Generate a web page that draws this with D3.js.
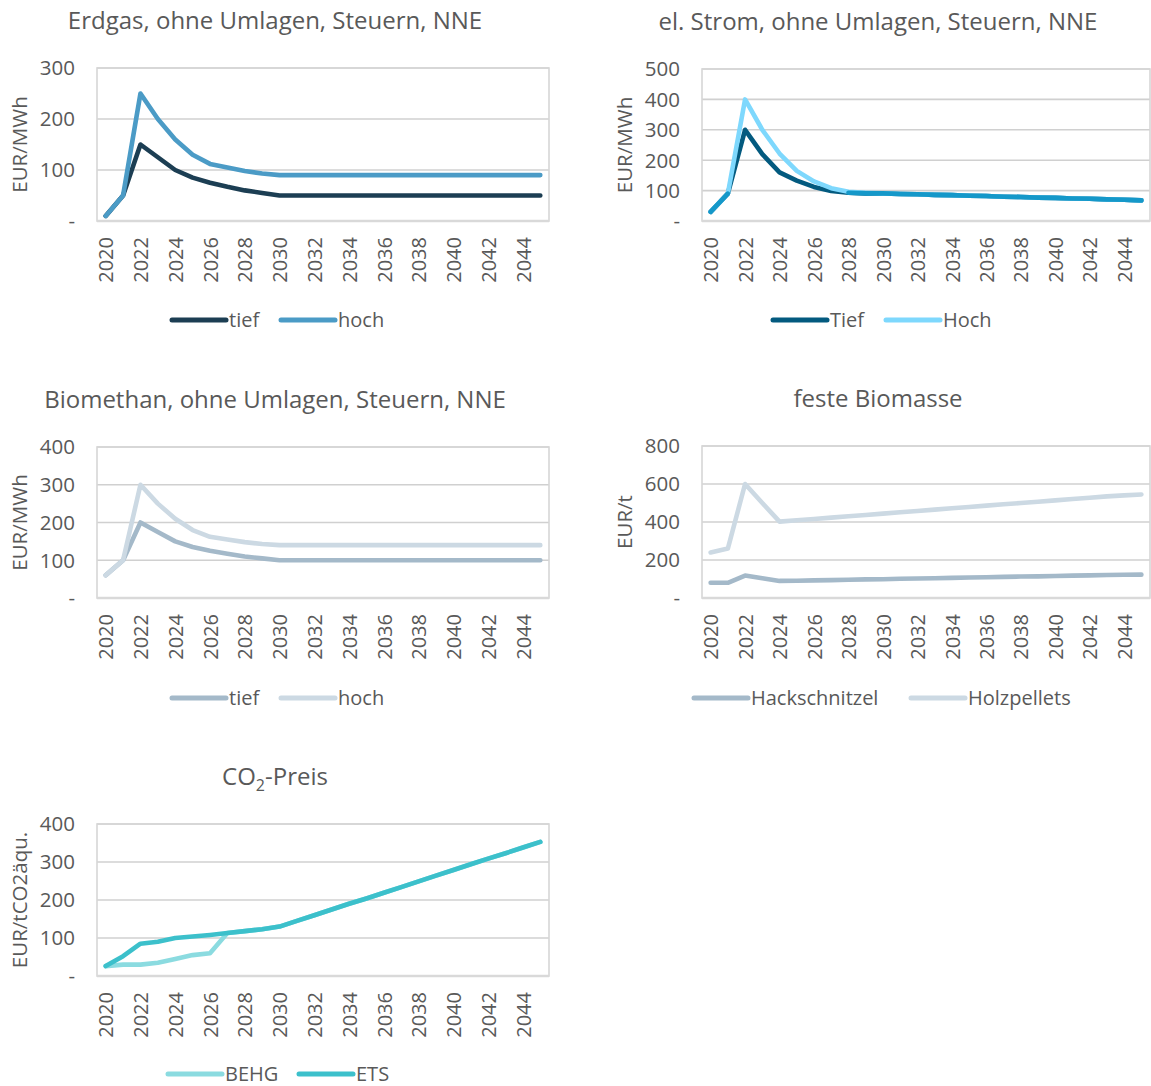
<!DOCTYPE html>
<html>
<head>
<meta charset="utf-8">
<script src="https://cdn.jsdelivr.net/npm/d3@7"></script>
<style>
    body { margin: 0; background: #fff; }
    svg text { font-family: "Open Sans", "Noto Sans", sans-serif; fill: #595959; }
</style>
</head>
<body>
<svg id="chart" width="1151" height="1086"></svg>
<script>
const years = [2020, 2021, 2022, 2023, 2024, 2025, 2026, 2027, 2028, 2029, 2030, 2031, 2032,
    2033, 2034, 2035, 2036, 2037, 2038, 2039, 2040, 2041, 2042, 2043, 2044, 2045];
const yearLabels = [2020, 2022, 2024, 2026, 2028, 2030, 2032, 2034, 2036, 2038, 2040, 2042, 2044];

// Erdgas
const gasTief = [10, 50, 150, 125, 100, 85, 75, 67, 60, 55, 50, 50, 50, 50, 50, 50, 50, 50, 50, 50, 50, 50, 50, 50, 50, 50];
const gasHoch = [10, 50, 250, 200, 160, 130, 112, 105, 98, 93, 90, 90, 90, 90, 90, 90, 90, 90, 90, 90, 90, 90, 90, 90, 90, 90];
// el. Strom
const stromTief = [30, 90, 300, 220, 160, 133, 112, 99, 93, 91, 91, 89, 88, 86, 85, 83, 82, 80, 79, 77, 76, 74, 73, 71, 70, 68];
const stromHoch = [30, 90, 400, 300, 222, 165, 130, 108, 96, 93, 91, 89, 88, 86, 85, 83, 82, 80, 79, 77, 76, 74, 73, 71, 70, 68];
// Biomethan
const bioTief = [60, 100, 200, 175, 150, 135, 125, 117, 110, 105, 100, 100, 100, 100, 100, 100, 100, 100, 100, 100, 100, 100, 100, 100, 100, 100];
const bioHoch = [60, 100, 300, 250, 210, 180, 162, 155, 148, 143, 140, 140, 140, 140, 140, 140, 140, 140, 140, 140, 140, 140, 140, 140, 140, 140];
// feste Biomasse
const hackschnitzel = [80, 80, 118, 104, 90, 91, 93, 94, 96, 98, 99, 101, 103, 104, 106, 108, 109, 111, 113, 114, 116, 118, 119, 121, 122, 123];
const holzpellets = [240, 260, 600, 500, 402, 409, 416, 423, 430, 437, 444, 451, 458, 465, 472, 479, 486, 493, 500, 507, 514, 521, 528, 535, 540, 545];
// CO2-Preis
const behg = [26, 30, 30, 35, 45, 55, 60, 113, 118, 123, 130, 145, 160, 175, 190, 204, 219, 234, 249, 264, 279, 294, 309, 323, 338, 353];
const ets = [26, 52, 85, 90, 100, 104, 108, 113, 118, 123, 130, 145, 160, 175, 190, 204, 219, 234, 249, 264, 279, 294, 309, 323, 338, 353];

const svg = d3.select("#chart");

const panels = [
    {
        title: "Erdgas, ohne Umlagen, Steuern, NNE", yTitle: "EUR/MWh",
        box: [97, 549, 68, 221], yMax: 300, yStep: 100,
        series: [
            {name: "tief", values: gasTief, color: "#1c3e53", lx: 172},
            {name: "hoch", values: gasHoch, color: "#4b9bc6", lx: 281}
        ], legendY: 320
    },
    {
        title: "el. Strom, ohne Umlagen, Steuern, NNE", yTitle: "EUR/MWh",
        box: [702, 1150, 69, 221], yMax: 500, yStep: 100,
        series: [
            {name: "Tief", values: stromTief, color: "#035a7f", lx: 773},
            {name: "Hoch", values: stromHoch, color: "#7ed8fd", lx: 886}
        ], legendY: 320, overlap: "#1598c9"
    },
    {
        title: "Biomethan, ohne Umlagen, Steuern, NNE", yTitle: "EUR/MWh",
        box: [97, 549, 447, 598], yMax: 400, yStep: 100,
        series: [
            {name: "tief", values: bioTief, color: "#a4b9c9", lx: 172},
            {name: "hoch", values: bioHoch, color: "#ccd9e3", lx: 281}
        ], legendY: 698
    },
    {
        title: "feste Biomasse", yTitle: "EUR/t",
        box: [702, 1150, 446, 598], yMax: 800, yStep: 200,
        series: [
            {name: "Hackschnitzel", values: hackschnitzel, color: "#a4b9c9", lx: 694},
            {name: "Holzpellets", values: holzpellets, color: "#ccd9e3", lx: 911}
        ], legendY: 698
    },
    {
        title: "CO2-Preis", yTitle: "EUR/tCO2äqu.",
        box: [97, 549, 824, 976], yMax: 400, yStep: 100,
        series: [
            {name: "BEHG", values: behg, color: "#8bdbe0", lx: 168},
            {name: "ETS", values: ets, color: "#3cc0cb", lx: 299}
        ], legendY: 1074
    }
];

function drawPanel(p) {
    const [x0, x1, y0, y1] = p.box;
    const g = svg.append("g");

    const x = d3.scalePoint().domain(years).range([x0, x1]).padding(0.5);
    const y = d3.scaleLinear().domain([0, p.yMax]).range([y1, y0]);
    const ticks = d3.range(0, p.yMax + 1, p.yStep);

    // gridlines + frame
    g.append("g")
        .selectAll("line")
        .data(ticks.filter(t => t > 0))
        .enter().append("line")
        .attr("x1", x0).attr("x2", x1)
        .attr("y1", d => y(d)).attr("y2", d => y(d))
        .attr("stroke", "#d0d0d0").attr("stroke-width", 1.6);
    g.append("rect")
        .attr("x", x0).attr("y", y0)
        .attr("width", x1 - x0).attr("height", y1 - y0)
        .attr("fill", "none").attr("stroke", "#d6d6d6").attr("stroke-width", 1.6);
    g.append("line")
        .attr("x1", x0).attr("x2", x1).attr("y1", y1).attr("y2", y1)
        .attr("stroke", "#d9d9d9").attr("stroke-width", 2.5);

    // y axis
    const yAxis = g.append("g")
        .attr("transform", `translate(${x0 - 22},0)`)
        .call(d3.axisLeft(y).tickValues(ticks).tickSize(0).tickPadding(0)
            .tickFormat(d => d === 0 ? "-" : d));
    yAxis.select(".domain").remove();
    yAxis.selectAll("text").style("font-size", "20.5px").attr("dy", "0.34em");

    // x axis
    const xAxis = g.append("g")
        .attr("transform", `translate(0,${y1})`)
        .call(d3.axisBottom(x).tickValues(yearLabels).tickSize(0).tickPadding(0));
    xAxis.select(".domain").remove();
    xAxis.selectAll("text")
        .style("font-size", "20px")
        .attr("text-anchor", "end")
        .attr("transform", "translate(0,16) rotate(-90)")
        .attr("x", 0).attr("y", 0).attr("dy", "0.36em");

    // titles
    const t = g.append("text")
        .attr("x", (x0 + x1) / 2 - 48).attr("y", y0 - 39)
        .attr("text-anchor", "middle")
        .style("font-size", "24px");
    if (p.title.startsWith("CO2")) {
        t.append("tspan").text("CO");
        t.append("tspan").text("2").style("font-size", "16px").attr("dy", 6);
        t.append("tspan").text("-Preis").attr("dy", -6);
    } else {
        t.text(p.title);
    }

    g.append("text")
        .attr("transform", `translate(${x0 - 70},${(y0 + y1) / 2}) rotate(-90)`)
        .attr("text-anchor", "middle")
        .style("font-size", "20.5px")
        .text(p.yTitle);

    // lines
    const line = d3.line()
        .x((d, i) => x(years[i]))
        .y(d => y(d));

    p.series.forEach(s => {
        g.append("path")
            .datum(s.values)
            .attr("d", line)
            .attr("fill", "none")
            .attr("stroke", s.color)
            .attr("stroke-width", 4.6)
            .attr("stroke-linejoin", "round")
            .attr("stroke-linecap", "round");
    });

    if (p.overlap) {
        const a = p.series[0].values, b = p.series[1].values;
        const ovLine = d3.line()
            .defined((d, i) => Math.abs(a[i] - b[i]) < 4)
            .x((d, i) => x(years[i]))
            .y(d => y(d));
        g.append("path")
            .datum(a)
            .attr("d", ovLine)
            .attr("fill", "none")
            .attr("stroke", p.overlap)
            .attr("stroke-width", 4.6)
            .attr("stroke-linejoin", "round")
            .attr("stroke-linecap", "round");
    }

    // legend
    const legend = g.selectAll(".legend")
        .data(p.series)
        .enter().append("g")
        .attr("class", "legend");
    legend.append("line")
        .attr("x1", d => d.lx).attr("x2", d => d.lx + 54)
        .attr("y1", p.legendY).attr("y2", p.legendY)
        .attr("stroke", d => d.color)
        .attr("stroke-width", 5)
        .attr("stroke-linecap", "round");
    legend.append("text")
        .attr("x", d => d.lx + 57)
        .attr("y", p.legendY)
        .attr("dy", "0.35em")
        .style("font-size", "20px")
        .text(d => d.name);
}

panels.forEach(drawPanel);
</script>
</body>
</html>
